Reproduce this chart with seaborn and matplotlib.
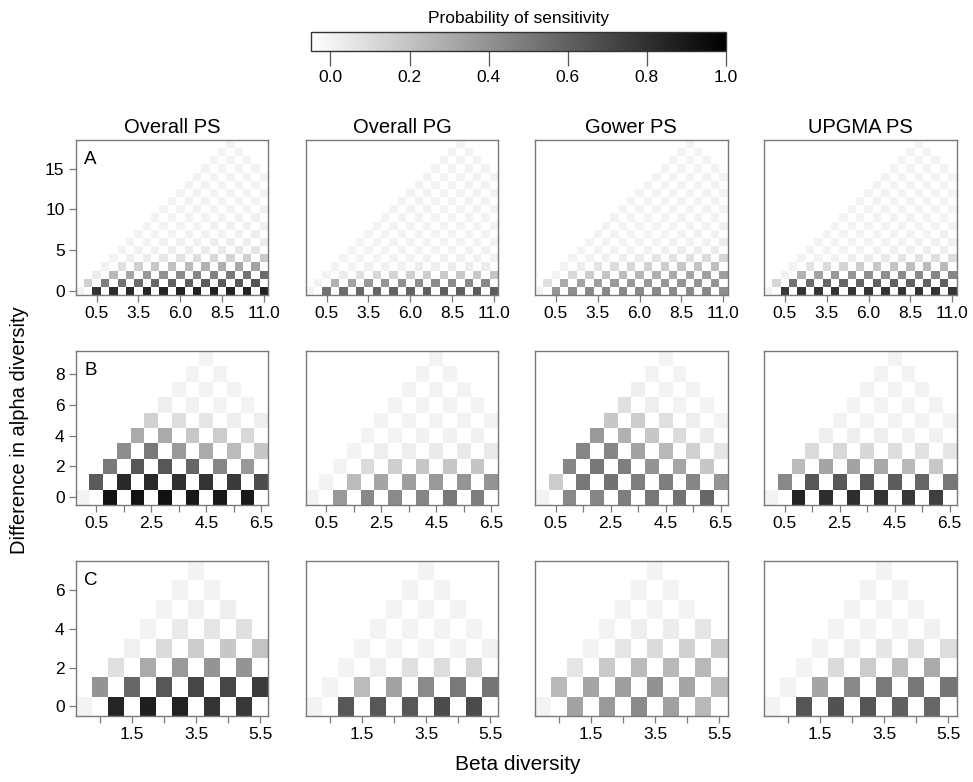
from __future__ import annotations

import matplotlib

matplotlib.use("Agg")
import matplotlib.pyplot as plt
import numpy as np
import pandas as pd
import seaborn as sns


METHODS = ["Overall PS", "Overall PG", "Gower PS", "UPGMA PS"]
PANEL_LETTERS = ["A", "B", "C"]

# Each panel: one list per difference in alpha diversity (0, 1, 2, ...).
# The first value of a row sits at beta = alpha / 2, the next ones every 1.0 beta.
A_OVERALL_PS = [
    [0.00, 0.79, 0.82, 0.84, 0.85, 0.85, 0.86, 0.86, 0.86, 0.86, 0.86, 0.86],
    [0.14, 0.48, 0.53, 0.56, 0.58, 0.60, 0.61, 0.62, 0.63, 0.64, 0.65],
    [0.03, 0.24, 0.32, 0.37, 0.40, 0.43, 0.45, 0.47, 0.50, 0.53, 0.56],
    [0.01, 0.08, 0.14, 0.18, 0.21, 0.24, 0.27, 0.29, 0.31, 0.33],
    [0.00, 0.02, 0.03, 0.05, 0.07, 0.09, 0.11, 0.13, 0.15, 0.17],
    [0.00, 0.01, 0.01, 0.02, 0.02, 0.03, 0.04, 0.05, 0.06],
    [0.00, 0.00, 0.01, 0.01, 0.01, 0.02, 0.02, 0.02, 0.03],
    [0.00, 0.00, 0.00, 0.01, 0.01, 0.01, 0.01, 0.02],
    [0.00, 0.00, 0.00, 0.00, 0.01, 0.01, 0.01, 0.01],
    [0.00, 0.00, 0.00, 0.00, 0.00, 0.01, 0.01],
    [0.00, 0.00, 0.00, 0.00, 0.00, 0.00, 0.01],
    [0.00, 0.00, 0.00, 0.00, 0.00, 0.00],
    [0.00, 0.00, 0.00, 0.00, 0.00, 0.00],
    [0.00, 0.00, 0.00, 0.00, 0.00],
    [0.00, 0.00, 0.00, 0.00, 0.00],
    [0.00, 0.00, 0.00, 0.00],
    [0.00, 0.00, 0.00],
    [0.00, 0.00],
    [0.00],
]
A_OVERALL_PG = [
    [0.00, 0.53, 0.56, 0.58, 0.58, 0.60, 0.60, 0.61, 0.61, 0.61, 0.62, 0.62],
    [0.00, 0.27, 0.33, 0.37, 0.39, 0.41, 0.42, 0.43, 0.43, 0.44, 0.44],
    [0.00, 0.03, 0.08, 0.11, 0.13, 0.15, 0.16, 0.17, 0.18, 0.18, 0.19],
    [0.00, 0.00, 0.01, 0.01, 0.01, 0.02, 0.02, 0.03, 0.03, 0.03],
    [0.00, 0.00, 0.00, 0.00, 0.00, 0.01, 0.01, 0.01, 0.01, 0.01],
    [0.00, 0.00, 0.00, 0.00, 0.00, 0.00, 0.00, 0.01, 0.01],
    [0.00, 0.00, 0.00, 0.00, 0.00, 0.00, 0.00, 0.00, 0.00],
    [0.00, 0.00, 0.00, 0.00, 0.00, 0.00, 0.00, 0.00],
    [0.00, 0.00, 0.00, 0.00, 0.00, 0.00, 0.00, 0.00],
    [0.00, 0.00, 0.00, 0.00, 0.00, 0.00, 0.00],
    [0.00, 0.00, 0.00, 0.00, 0.00, 0.00, 0.00],
    [0.00, 0.00, 0.00, 0.00, 0.00, 0.00],
    [0.00, 0.00, 0.00, 0.00, 0.00, 0.00],
    [0.00, 0.00, 0.00, 0.00, 0.00],
    [0.00, 0.00, 0.00, 0.00, 0.00],
    [0.00, 0.00, 0.00, 0.00],
    [0.00, 0.00, 0.00],
    [0.00, 0.00],
    [0.00],
]
A_GOWER_PS = [
    [0.00, 0.39, 0.42, 0.43, 0.44, 0.44, 0.44, 0.44, 0.43, 0.43, 0.43, 0.42],
    [0.08, 0.30, 0.33, 0.35, 0.37, 0.37, 0.38, 0.38, 0.39, 0.39, 0.39],
    [0.00, 0.11, 0.16, 0.20, 0.23, 0.25, 0.28, 0.30, 0.32, 0.34, 0.35],
    [0.00, 0.02, 0.06, 0.09, 0.12, 0.14, 0.16, 0.18, 0.20, 0.22],
    [0.00, 0.00, 0.01, 0.02, 0.03, 0.06, 0.07, 0.08, 0.10, 0.12],
    [0.00, 0.00, 0.00, 0.00, 0.01, 0.01, 0.02, 0.03, 0.04],
    [0.00, 0.00, 0.00, 0.00, 0.00, 0.01, 0.01, 0.01, 0.02],
    [0.00, 0.00, 0.00, 0.00, 0.00, 0.00, 0.01, 0.01],
    [0.00, 0.00, 0.00, 0.00, 0.00, 0.00, 0.00, 0.01],
    [0.00, 0.00, 0.00, 0.00, 0.00, 0.00, 0.00],
    [0.00, 0.00, 0.00, 0.00, 0.00, 0.00, 0.00],
    [0.00, 0.00, 0.00, 0.00, 0.00, 0.00],
    [0.00, 0.00, 0.00, 0.00, 0.00, 0.00],
    [0.00, 0.00, 0.00, 0.00, 0.00],
    [0.00, 0.00, 0.00, 0.00, 0.00],
    [0.00, 0.00, 0.00, 0.00],
    [0.00, 0.00, 0.00],
    [0.00, 0.00],
    [0.00],
]
A_UPGMA_PS = [
    [0.00, 0.77, 0.79, 0.79, 0.79, 0.79, 0.79, 0.79, 0.79, 0.79, 0.79, 0.79],
    [0.11, 0.53, 0.56, 0.58, 0.58, 0.59, 0.60, 0.60, 0.60, 0.60, 0.60],
    [0.01, 0.27, 0.33, 0.37, 0.39, 0.41, 0.42, 0.43, 0.44, 0.45, 0.45],
    [0.00, 0.06, 0.10, 0.13, 0.16, 0.18, 0.20, 0.22, 0.23, 0.24],
    [0.00, 0.00, 0.01, 0.02, 0.03, 0.04, 0.06, 0.07, 0.08, 0.09],
    [0.00, 0.00, 0.00, 0.00, 0.01, 0.01, 0.01, 0.02, 0.02],
    [0.00, 0.00, 0.00, 0.00, 0.00, 0.00, 0.01, 0.01, 0.01],
    [0.00, 0.00, 0.00, 0.00, 0.00, 0.00, 0.00, 0.01],
    [0.00, 0.00, 0.00, 0.00, 0.00, 0.00, 0.00, 0.00],
    [0.00, 0.00, 0.00, 0.00, 0.00, 0.00, 0.00],
    [0.00, 0.00, 0.00, 0.00, 0.00, 0.00, 0.00],
    [0.00, 0.00, 0.00, 0.00, 0.00, 0.00],
    [0.00, 0.00, 0.00, 0.00, 0.00, 0.00],
    [0.00, 0.00, 0.00, 0.00, 0.00],
    [0.00, 0.00, 0.00, 0.00, 0.00],
    [0.00, 0.00, 0.00, 0.00],
    [0.00, 0.00, 0.00],
    [0.00, 0.00],
    [0.00],
]

B_OVERALL_PS = [
    [0.00, 0.93, 0.92, 0.93, 0.90, 0.90, 0.89],
    [0.63, 0.83, 0.83, 0.80, 0.79, 0.76, 0.69],
    [0.50, 0.64, 0.64, 0.58, 0.45, 0.37],
    [0.42, 0.50, 0.37, 0.30, 0.23, 0.18],
    [0.30, 0.30, 0.18, 0.16, 0.11],
    [0.14, 0.09, 0.06, 0.02, 0.02],
    [0.02, 0.01, 0.00, 0.00],
    [0.00, 0.00, 0.00],
    [0.00, 0.00],
    [0.00],
]
B_OVERALL_PG = [
    [0.00, 0.37, 0.44, 0.43, 0.45, 0.51, 0.48],
    [0.00, 0.23, 0.32, 0.35, 0.37, 0.39, 0.39],
    [0.00, 0.10, 0.15, 0.18, 0.18, 0.19],
    [0.00, 0.02, 0.02, 0.04, 0.04, 0.04],
    [0.00, 0.00, 0.01, 0.01, 0.01],
    [0.00, 0.00, 0.00, 0.00, 0.00],
    [0.00, 0.00, 0.00, 0.00],
    [0.00, 0.00, 0.00],
    [0.00, 0.00],
    [0.00],
]
B_GOWER_PS = [
    [0.00, 0.44, 0.45, 0.48, 0.51, 0.53, 0.58],
    [0.16, 0.51, 0.53, 0.48, 0.48, 0.45, 0.39],
    [0.45, 0.51, 0.48, 0.39, 0.32, 0.18],
    [0.45, 0.45, 0.33, 0.24, 0.14, 0.06],
    [0.37, 0.27, 0.18, 0.10, 0.03],
    [0.18, 0.16, 0.08, 0.02, 0.00],
    [0.08, 0.02, 0.00, 0.00],
    [0.02, 0.00, 0.00],
    [0.00, 0.00],
    [0.00],
]
B_UPGMA_PS = [
    [0.00, 0.86, 0.81, 0.81, 0.79, 0.77, 0.74],
    [0.44, 0.64, 0.64, 0.64, 0.62, 0.58, 0.51],
    [0.23, 0.32, 0.33, 0.31, 0.24, 0.18],
    [0.10, 0.11, 0.11, 0.09, 0.07, 0.06],
    [0.02, 0.02, 0.02, 0.01, 0.01],
    [0.00, 0.00, 0.00, 0.00, 0.00],
    [0.00, 0.00, 0.00, 0.00],
    [0.00, 0.00, 0.00],
    [0.00, 0.00],
    [0.00],
]

C_OVERALL_PS = [
    [0.00, 0.85, 0.87, 0.86, 0.79, 0.77],
    [0.39, 0.58, 0.64, 0.71, 0.71, 0.75],
    [0.08, 0.30, 0.37, 0.39, 0.39],
    [0.01, 0.10, 0.16, 0.18, 0.20],
    [0.00, 0.04, 0.06, 0.08],
    [0.00, 0.01, 0.02],
    [0.00, 0.00],
    [0.00],
]
C_OVERALL_PG = [
    [0.00, 0.64, 0.64, 0.64, 0.69, 0.69],
    [0.00, 0.23, 0.33, 0.43, 0.50, 0.52],
    [0.00, 0.02, 0.08, 0.09, 0.13],
    [0.00, 0.00, 0.00, 0.00, 0.01],
    [0.00, 0.00, 0.00, 0.00],
    [0.00, 0.00, 0.00],
    [0.00, 0.00],
    [0.00],
]
C_GOWER_PS = [
    [0.00, 0.33, 0.37, 0.43, 0.34, 0.24],
    [0.24, 0.32, 0.35, 0.40, 0.32, 0.23],
    [0.06, 0.17, 0.23, 0.24, 0.24],
    [0.00, 0.06, 0.10, 0.14, 0.17],
    [0.00, 0.02, 0.03, 0.06],
    [0.00, 0.00, 0.00],
    [0.00, 0.00],
    [0.00],
]
C_UPGMA_PS = [
    [0.00, 0.65, 0.66, 0.65, 0.60, 0.58],
    [0.00, 0.32, 0.44, 0.50, 0.51, 0.52],
    [0.00, 0.10, 0.16, 0.22, 0.30],
    [0.00, 0.02, 0.05, 0.08, 0.09],
    [0.00, 0.00, 0.00, 0.01],
    [0.00, 0.00, 0.00],
    [0.00, 0.00],
    [0.00],
]

# beta levels shown on each row of panels
A_BETA = [0.0, 0.5, 1.0, 1.5, 2.0, 2.5, 3.0, 3.5, 4.0, 4.5, 5.0, 5.5,
          6.0, 6.5, 7.0, 7.5, 8.0, 8.5, 9.0, 9.5, 10.0, 10.5, 11.0]
B_BETA = [0.0, 0.5, 1.0, 1.5, 2.0, 2.5, 3.0, 3.5, 4.0, 4.5, 5.0, 5.5, 6.0, 6.5]
C_BETA = [0.0, 0.5, 1.0, 1.5, 2.0, 2.5, 3.0, 3.5, 4.0, 4.5, 5.0, 5.5]

# tick marks (beta level) and the text printed under them
A_XTICKS = [1.0, 3.5, 6.0, 8.5, 11.0]
A_XTICK_LABELS = ["0.5", "3.5", "6.0", "8.5", "11.0"]
B_XTICKS = [0.5, 1.5, 2.5, 3.5, 4.5, 5.5, 6.5]
B_XTICK_LABELS = ["0.5", "", "2.5", "", "4.5", "", "6.5"]
C_XTICKS = [0.5, 1.5, 2.5, 3.5, 4.5, 5.5]
C_XTICK_LABELS = ["", "1.5", "", "3.5", "", "5.5"]
A_YTICKS = [0, 5, 10, 15]
B_YTICKS = [0, 2, 4, 6, 8]
C_YTICKS = [0, 2, 4, 6]

CBAR_TICKS = [0.0, 0.2, 0.4, 0.6, 0.8, 1.0]

FRAME = "#7a7a7a"
TICK_SIZE = 12.5


def panel_grid(rows: list[list[float]], betas: list[float]) -> pd.DataFrame:
    records = []
    for alpha, values in enumerate(rows):
        for k, value in enumerate(values):
            records.append({"alpha": alpha, "beta": alpha / 2 + k, "prob": value})
    df = pd.DataFrame(records)
    grid = df.pivot(index="alpha", columns="beta", values="prob")
    return grid.reindex(columns=betas)


def draw_panel(ax, grid, xticks, xlabels, yticks, show_y: bool) -> None:
    sns.heatmap(
        grid,
        ax=ax,
        cmap="gray_r",
        vmin=-0.05,
        vmax=1.0,
        cbar=False,
        xticklabels=False,
        yticklabels=False,
    )
    ax.invert_yaxis()
    ax.set_facecolor("white")
    cols = list(grid.columns)
    ax.set_xticks([cols.index(b) + 0.5 for b in xticks])
    ax.set_xticklabels(xlabels, rotation=0)
    if show_y:
        ax.set_yticks([y + 0.5 for y in yticks])
        ax.set_yticklabels([str(y) for y in yticks], rotation=0)
    else:
        ax.set_yticks([])
    ax.set_xlabel("")
    ax.set_ylabel("")
    for spine in ax.spines.values():
        spine.set_visible(True)
        spine.set_color(FRAME)
        spine.set_linewidth(1.0)
    ax.tick_params(axis="both", direction="out", length=5, width=0.9,
                   color=FRAME, labelsize=TICK_SIZE, pad=3)


def main() -> None:
    plt.rcParams["font.family"] = ["Liberation Sans", "DejaVu Sans"]
    fig = plt.figure(figsize=(9.73, 7.82), dpi=100)
    W, H = 973.0, 782.0

    lefts = [75.7, 305.7, 535.0, 764.0]
    width = 192.5
    rows_px = [(140.0, 295.0), (351.0, 505.0), (561.0, 716.0)]

    panels = [
        (A_BETA, [A_OVERALL_PS, A_OVERALL_PG, A_GOWER_PS, A_UPGMA_PS],
         A_XTICKS, A_XTICK_LABELS, A_YTICKS),
        (B_BETA, [B_OVERALL_PS, B_OVERALL_PG, B_GOWER_PS, B_UPGMA_PS],
         B_XTICKS, B_XTICK_LABELS, B_YTICKS),
        (C_BETA, [C_OVERALL_PS, C_OVERALL_PG, C_GOWER_PS, C_UPGMA_PS],
         C_XTICKS, C_XTICK_LABELS, C_YTICKS),
    ]

    mesh = None
    for r, (betas, data, xt, xl, yt) in enumerate(panels):
        top, bottom = rows_px[r]
        for c, rows in enumerate(data):
            ax = fig.add_axes([lefts[c] / W, 1 - bottom / H, width / W, (bottom - top) / H])
            draw_panel(ax, panel_grid(rows, betas), xt, xl, yt, show_y=(c == 0))
            if mesh is None:
                mesh = ax.collections[0]
            if c == 0:
                ax.text(0.045, 0.93, PANEL_LETTERS[r], transform=ax.transAxes,
                        ha="left", va="top", fontsize=13.5)
            if r == 0:
                ax.set_title(METHODS[c], fontsize=14.5, pad=5)

    cax = fig.add_axes([310.7 / W, 1 - 50.7 / H, 415.0 / W, 19.0 / H])
    cb = fig.colorbar(mesh, cax=cax, orientation="horizontal", ticks=CBAR_TICKS)
    cb.ax.set_xticklabels([f"{t:.1f}" for t in CBAR_TICKS])
    cb.ax.tick_params(length=11, width=0.9, color="#555555", labelsize=TICK_SIZE, pad=3)
    cb.outline.set_edgecolor("#333333")
    cb.outline.set_linewidth(1.0)
    fig.text(518 / W, 1 - 18 / H, "Probability of sensitivity",
             ha="center", va="center", fontsize=12.5)

    fig.text(20 / W, 1 - 430 / H, "Difference in alpha diversity",
             rotation=90, ha="center", va="center", fontsize=14.5)
    fig.text(518 / W, 1 - 765 / H, "Beta diversity",
             ha="center", va="center", fontsize=15)

    fig.savefig("out.png", dpi=100, facecolor="white")
    plt.close(fig)


if __name__ == "__main__":
    main()
